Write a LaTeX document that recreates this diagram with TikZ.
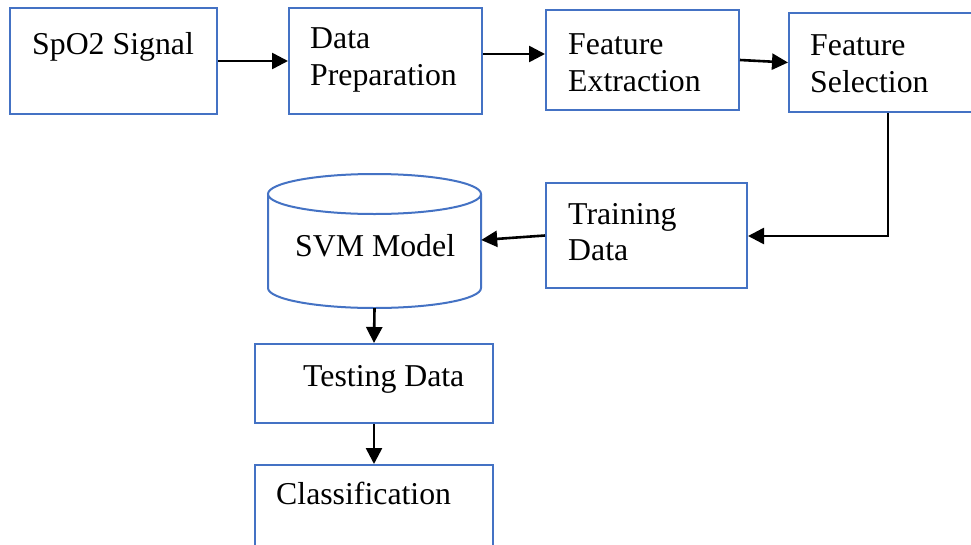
\documentclass[tikz,border=0pt]{standalone}
\usepackage{fontspec}
\setmainfont{Liberation Serif}
\usetikzlibrary{arrows.meta}
\definecolor{boxblue}{HTML}{4472C4}
\tikzset{
  box/.style={draw=boxblue, line width=2pt, fill=white, inner sep=0pt},
  lbl/.style={anchor=base west, inner sep=0pt, font=\fontsize{31.8}{37}\selectfont},
  arr/.style={draw=black, line width=2.6pt, -{Triangle[length=16pt,width=16pt]}},
}
\begin{document}
\begin{tikzpicture}[x=1pt, y=-1pt]
  \clip (0,0) rectangle (971,544);
  \fill[white] (0,0) rectangle (971,544);

  % processing chain, top row
  \node[box, minimum width=207pt, minimum height=106pt] (spo2)  at (113.5,61) {};
  \node[box, minimum width=193pt, minimum height=106pt] (prep)  at (385.5,61) {};
  \node[box, minimum width=193pt, minimum height=100pt] (fe)    at (642.5,60) {};
  \node[box, minimum width=186pt, minimum height=99pt]  (fs)    at (882,62.5) {};

  % training, model and testing
  \node[box, minimum width=201pt, minimum height=105pt] (train) at (646.5,235.5) {};
  \node[box, minimum width=238pt, minimum height=79pt]  (test)  at (374,383.5) {};
  \node[box, minimum width=238pt, minimum height=100pt] (cls)   at (374,515) {};

  % SVM model as a cylinder
  \draw[boxblue, line width=2pt, fill=white]
    (268,194) -- (268,288) arc[start angle=180, end angle=0, x radius=106.5, y radius=20]
    -- (481,194);
  \draw[boxblue, line width=2pt, fill=white] (374.5,194) ellipse[x radius=106.5, y radius=20];
  \node[inner sep=0pt, minimum width=213pt, minimum height=134pt] (svm) at (374.5,241) {};

  % labels
  \node[lbl] (t1)  at (32,54)   {SpO2 Signal};
  \node[lbl] (t2a) at (310,48)  {Data};
  \node[lbl] (t2b) at (310,85)  {Preparation};
  \node[lbl] (t3a) at (568,54)  {Feature};
  \node[lbl] (t3b) at (568,91)  {Extraction};
  \node[lbl] (t4a) at (810,55)  {Feature};
  \node[lbl] (t4b) at (810,92)  {Selection};
  \node[lbl] (t5a) at (568,224) {Training};
  \node[lbl] (t5b) at (568,260) {Data};
  \node[lbl] (t6)  at (295,256) {SVM Model};
  \node[lbl] (t7)  at (303,386) {Testing Data};
  \node[lbl] (t8)  at (276,504) {Classification};

  % connectors
  \coordinate (bend) at (888,236);
  \draw[arr] (spo2.east) -- (prep.west);
  \draw[arr] ([yshift=7pt]prep.east) -- ([yshift=7pt]prep.east -| fe.west);
  \draw[arr] (fe.east) -- (fs.west);
  \draw[arr] (bend |- fs.south) -- (bend) -- (bend -| train.east);
  \draw[arr] (train.west) -- ([yshift=1pt]svm.east);
  \draw[arr] (svm.south) -- (test.north);
  \draw[arr] (test.south) -- (cls.north);
\end{tikzpicture}
\end{document}
